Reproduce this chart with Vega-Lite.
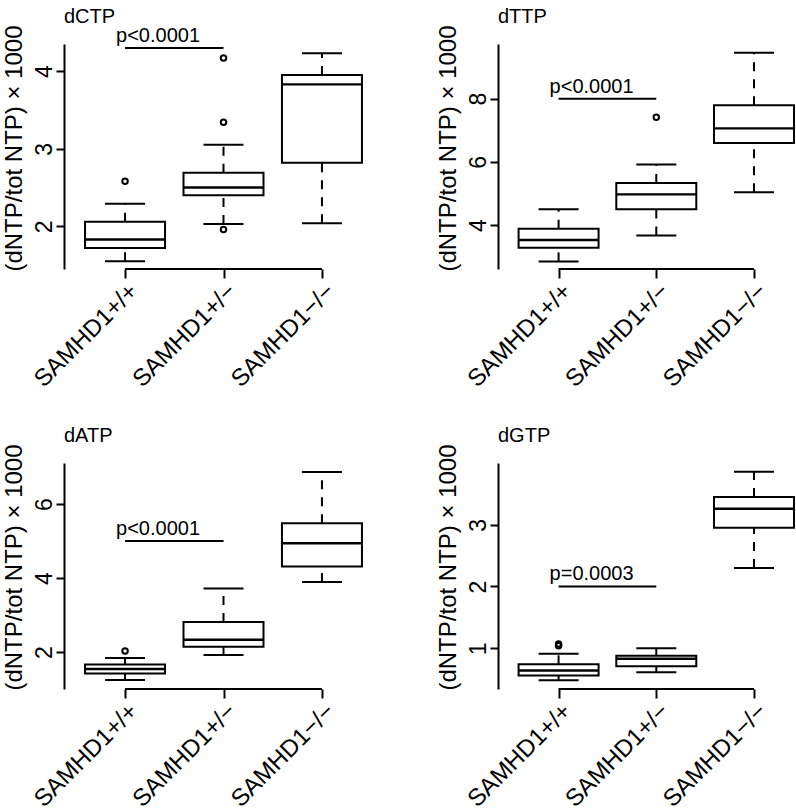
{
  "$schema": "https://vega.github.io/schema/vega-lite/v6.json",
  "padding": {"left": 1, "top": 6, "right": 0, "bottom": 0},
  "background": "white",
  "datasets": {
    "boxes": [
      {"panel": "dCTP", "x": 1, "lower": 1.55, "q1": 1.72, "med": 1.83, "q3": 2.06, "upper": 2.29},
      {"panel": "dCTP", "x": 2, "lower": 2.03, "q1": 2.40, "med": 2.50, "q3": 2.69, "upper": 3.05},
      {"panel": "dCTP", "x": 3, "lower": 2.04, "q1": 2.82, "med": 3.83, "q3": 3.95, "upper": 4.23},
      {"panel": "dTTP", "x": 1, "lower": 2.85, "q1": 3.28, "med": 3.53, "q3": 3.88, "upper": 4.50},
      {"panel": "dTTP", "x": 2, "lower": 3.67, "q1": 4.50, "med": 4.97, "q3": 5.33, "upper": 5.92},
      {"panel": "dTTP", "x": 3, "lower": 5.04, "q1": 6.60, "med": 7.06, "q3": 7.79, "upper": 9.45},
      {"panel": "dATP", "x": 1, "lower": 1.24, "q1": 1.42, "med": 1.54, "q3": 1.66, "upper": 1.84},
      {"panel": "dATP", "x": 2, "lower": 1.92, "q1": 2.14, "med": 2.33, "q3": 2.81, "upper": 3.72},
      {"panel": "dATP", "x": 3, "lower": 3.89, "q1": 4.31, "med": 4.94, "q3": 5.48, "upper": 6.87},
      {"panel": "dGTP", "x": 1, "lower": 0.48, "q1": 0.56, "med": 0.64, "q3": 0.74, "upper": 0.91},
      {"panel": "dGTP", "x": 2, "lower": 0.61, "q1": 0.71, "med": 0.83, "q3": 0.88, "upper": 1.00},
      {"panel": "dGTP", "x": 3, "lower": 2.30, "q1": 2.95, "med": 3.26, "q3": 3.45, "upper": 3.86}
    ],
    "outliers": [
      {"panel": "dCTP", "x": 1, "value": 2.58},
      {"panel": "dCTP", "x": 2, "value": 4.17},
      {"panel": "dCTP", "x": 2, "value": 3.34},
      {"panel": "dCTP", "x": 2, "value": 1.96},
      {"panel": "dTTP", "x": 2, "value": 7.41},
      {"panel": "dATP", "x": 1, "value": 2.03},
      {"panel": "dGTP", "x": 1, "value": 1.04},
      {"panel": "dGTP", "x": 1, "value": 1.07}
    ],
    "pvals": [
      {"panel": "dCTP", "x": 1, "x2": 2, "y": 4.30, "label": "p<0.0001"},
      {"panel": "dTTP", "x": 1, "x2": 2, "y": 8.0, "label": "p<0.0001"},
      {"panel": "dATP", "x": 1, "x2": 2, "y": 5.0, "label": "p<0.0001"},
      {"panel": "dGTP", "x": 1, "x2": 2, "y": 2.0, "label": "p=0.0003"}
    ]
  },
  "columns": 2,
  "bounds": "flush",
  "spacing": {"column": 115, "row": 194},
  "concat": [
    {
      "width": 319, "height": 225,
      "title": {"text": "dCTP"},
      "layer": [
        {"data": {"name": "boxes"}, "transform": [{"filter": "datum.panel == 'dCTP'"}],
         "mark": {"type": "rule", "strokeDash": [9, 8], "strokeWidth": 2, "color": "black"},
         "encoding": {
           "x": {"field": "x", "type": "quantitative", "scale": {"domain": [0.38, 3.62], "nice": false, "zero": false, "padding": 0}, "axis": {"values": [1, 2, 3], "labelExpr": "datum.value == 1 ? 'SAMHD1+/+' : datum.value == 2 ? 'SAMHD1+/\u2212' : 'SAMHD1\u2212/\u2212'"}, "title": null},
           "y": {"field": "q3", "type": "quantitative", "scale": {"domain": [1.45, 4.35], "nice": false, "zero": false, "padding": 0}, "axis": {"values": [2, 3, 4]}, "title": "(dNTP/tot NTP) \u00d7 1000"},
           "y2": {"field": "upper"}
         }},
        {"data": {"name": "boxes"}, "transform": [{"filter": "datum.panel == 'dCTP'"}],
         "mark": {"type": "rule", "strokeDash": [9, 8], "strokeWidth": 2, "color": "black"},
         "encoding": {
           "x": {"field": "x", "type": "quantitative", "scale": {"domain": [0.38, 3.62], "nice": false, "zero": false, "padding": 0}, "axis": {"values": [1, 2, 3], "labelExpr": "datum.value == 1 ? 'SAMHD1+/+' : datum.value == 2 ? 'SAMHD1+/\u2212' : 'SAMHD1\u2212/\u2212'"}, "title": null},
           "y": {"field": "lower", "type": "quantitative", "scale": {"domain": [1.45, 4.35], "nice": false, "zero": false, "padding": 0}, "axis": {"values": [2, 3, 4]}, "title": "(dNTP/tot NTP) \u00d7 1000"},
           "y2": {"field": "q1"}
         }},
        {"data": {"name": "boxes"}, "transform": [{"filter": "datum.panel == 'dCTP'"}],
         "mark": {"type": "bar", "width": 80, "fill": "white", "stroke": "black", "strokeWidth": 2},
         "encoding": {
           "x": {"field": "x", "type": "quantitative", "scale": {"domain": [0.38, 3.62], "nice": false, "zero": false, "padding": 0}, "axis": {"values": [1, 2, 3], "labelExpr": "datum.value == 1 ? 'SAMHD1+/+' : datum.value == 2 ? 'SAMHD1+/\u2212' : 'SAMHD1\u2212/\u2212'"}, "title": null},
           "y": {"field": "q1", "type": "quantitative", "scale": {"domain": [1.45, 4.35], "nice": false, "zero": false, "padding": 0}, "axis": {"values": [2, 3, 4]}, "title": "(dNTP/tot NTP) \u00d7 1000"},
           "y2": {"field": "q3"}
         }},
        {"data": {"name": "boxes"}, "transform": [{"filter": "datum.panel == 'dCTP'"}],
         "mark": {"type": "tick", "orient": "horizontal", "size": 80, "thickness": 2.4, "color": "black", "opacity": 1},
         "encoding": {
           "x": {"field": "x", "type": "quantitative", "scale": {"domain": [0.38, 3.62], "nice": false, "zero": false, "padding": 0}, "axis": {"values": [1, 2, 3], "labelExpr": "datum.value == 1 ? 'SAMHD1+/+' : datum.value == 2 ? 'SAMHD1+/\u2212' : 'SAMHD1\u2212/\u2212'"}, "title": null},
           "y": {"field": "med", "type": "quantitative", "scale": {"domain": [1.45, 4.35], "nice": false, "zero": false, "padding": 0}, "axis": {"values": [2, 3, 4]}, "title": "(dNTP/tot NTP) \u00d7 1000"}
         }},
        {"data": {"name": "boxes"}, "transform": [{"filter": "datum.panel == 'dCTP'"}],
         "mark": {"type": "tick", "orient": "horizontal", "size": 40, "thickness": 2, "color": "black", "opacity": 1},
         "encoding": {
           "x": {"field": "x", "type": "quantitative", "scale": {"domain": [0.38, 3.62], "nice": false, "zero": false, "padding": 0}, "axis": {"values": [1, 2, 3], "labelExpr": "datum.value == 1 ? 'SAMHD1+/+' : datum.value == 2 ? 'SAMHD1+/\u2212' : 'SAMHD1\u2212/\u2212'"}, "title": null},
           "y": {"field": "upper", "type": "quantitative", "scale": {"domain": [1.45, 4.35], "nice": false, "zero": false, "padding": 0}, "axis": {"values": [2, 3, 4]}, "title": "(dNTP/tot NTP) \u00d7 1000"}
         }},
        {"data": {"name": "boxes"}, "transform": [{"filter": "datum.panel == 'dCTP'"}],
         "mark": {"type": "tick", "orient": "horizontal", "size": 40, "thickness": 2, "color": "black", "opacity": 1},
         "encoding": {
           "x": {"field": "x", "type": "quantitative", "scale": {"domain": [0.38, 3.62], "nice": false, "zero": false, "padding": 0}, "axis": {"values": [1, 2, 3], "labelExpr": "datum.value == 1 ? 'SAMHD1+/+' : datum.value == 2 ? 'SAMHD1+/\u2212' : 'SAMHD1\u2212/\u2212'"}, "title": null},
           "y": {"field": "lower", "type": "quantitative", "scale": {"domain": [1.45, 4.35], "nice": false, "zero": false, "padding": 0}, "axis": {"values": [2, 3, 4]}, "title": "(dNTP/tot NTP) \u00d7 1000"}
         }},
        {"data": {"name": "outliers"}, "transform": [{"filter": "datum.panel == 'dCTP'"}],
         "mark": {"type": "point", "size": 30, "stroke": "black", "strokeWidth": 2, "filled": false, "opacity": 1},
         "encoding": {
           "x": {"field": "x", "type": "quantitative", "scale": {"domain": [0.38, 3.62], "nice": false, "zero": false, "padding": 0}, "axis": {"values": [1, 2, 3], "labelExpr": "datum.value == 1 ? 'SAMHD1+/+' : datum.value == 2 ? 'SAMHD1+/\u2212' : 'SAMHD1\u2212/\u2212'"}, "title": null},
           "y": {"field": "value", "type": "quantitative", "scale": {"domain": [1.45, 4.35], "nice": false, "zero": false, "padding": 0}, "axis": {"values": [2, 3, 4]}, "title": "(dNTP/tot NTP) \u00d7 1000"}
         }},
        {"data": {"name": "pvals"}, "transform": [{"filter": "datum.panel == 'dCTP'"}],
         "mark": {"type": "rule", "strokeWidth": 2, "color": "black"},
         "encoding": {
           "x": {"field": "x", "type": "quantitative", "scale": {"domain": [0.38, 3.62], "nice": false, "zero": false, "padding": 0}, "axis": {"values": [1, 2, 3], "labelExpr": "datum.value == 1 ? 'SAMHD1+/+' : datum.value == 2 ? 'SAMHD1+/\u2212' : 'SAMHD1\u2212/\u2212'"}, "title": null},
           "x2": {"field": "x2"},
           "y": {"field": "y", "type": "quantitative", "scale": {"domain": [1.45, 4.35], "nice": false, "zero": false, "padding": 0}, "axis": {"values": [2, 3, 4]}, "title": "(dNTP/tot NTP) \u00d7 1000"}
         }},
        {"data": {"name": "pvals"}, "transform": [{"filter": "datum.panel == 'dCTP'"}],
         "mark": {"type": "text", "align": "left", "baseline": "alphabetic", "dx": -9, "dy": -6, "fontSize": 20, "font": "Liberation Sans", "color": "black"},
         "encoding": {
           "x": {"field": "x", "type": "quantitative", "scale": {"domain": [0.38, 3.62], "nice": false, "zero": false, "padding": 0}, "axis": {"values": [1, 2, 3], "labelExpr": "datum.value == 1 ? 'SAMHD1+/+' : datum.value == 2 ? 'SAMHD1+/\u2212' : 'SAMHD1\u2212/\u2212'"}, "title": null},
           "y": {"field": "y", "type": "quantitative", "scale": {"domain": [1.45, 4.35], "nice": false, "zero": false, "padding": 0}, "axis": {"values": [2, 3, 4]}, "title": "(dNTP/tot NTP) \u00d7 1000"},
           "text": {"field": "label"}
         }},
        {"data": {"name": "pvals"}, "transform": [{"filter": "datum.panel == 'dCTP'"}],
         "mark": {"type": "rule", "strokeWidth": 2, "color": "black"},
         "encoding": {
           "x": {"datum": 1, "type": "quantitative", "scale": {"domain": [0.38, 3.62], "nice": false, "zero": false, "padding": 0}, "axis": {"values": [1, 2, 3], "labelExpr": "datum.value == 1 ? 'SAMHD1+/+' : datum.value == 2 ? 'SAMHD1+/\u2212' : 'SAMHD1\u2212/\u2212'"}, "title": null},
           "x2": {"datum": 3},
           "y": {"datum": 1.45, "type": "quantitative", "scale": {"domain": [1.45, 4.35], "nice": false, "zero": false, "padding": 0}, "axis": {"values": [2, 3, 4]}, "title": "(dNTP/tot NTP) \u00d7 1000"}
         }}
      ]
    },
    {
      "width": 299, "height": 225,
      "title": {"text": "dTTP"},
      "layer": [
        {"data": {"name": "boxes"}, "transform": [{"filter": "datum.panel == 'dTTP'"}],
         "mark": {"type": "rule", "strokeDash": [9, 8], "strokeWidth": 2, "color": "black"},
         "encoding": {
           "x": {"field": "x", "type": "quantitative", "scale": {"domain": [0.38, 3.44], "nice": false, "zero": false, "padding": 0}, "axis": {"values": [1, 2, 3], "labelExpr": "datum.value == 1 ? 'SAMHD1+/+' : datum.value == 2 ? 'SAMHD1+/\u2212' : 'SAMHD1\u2212/\u2212'"}, "title": null},
           "y": {"field": "q3", "type": "quantitative", "scale": {"domain": [2.61, 9.73], "nice": false, "zero": false, "padding": 0}, "axis": {"values": [4, 6, 8]}, "title": "(dNTP/tot NTP) \u00d7 1000"},
           "y2": {"field": "upper"}
         }},
        {"data": {"name": "boxes"}, "transform": [{"filter": "datum.panel == 'dTTP'"}],
         "mark": {"type": "rule", "strokeDash": [9, 8], "strokeWidth": 2, "color": "black"},
         "encoding": {
           "x": {"field": "x", "type": "quantitative", "scale": {"domain": [0.38, 3.44], "nice": false, "zero": false, "padding": 0}, "axis": {"values": [1, 2, 3], "labelExpr": "datum.value == 1 ? 'SAMHD1+/+' : datum.value == 2 ? 'SAMHD1+/\u2212' : 'SAMHD1\u2212/\u2212'"}, "title": null},
           "y": {"field": "lower", "type": "quantitative", "scale": {"domain": [2.61, 9.73], "nice": false, "zero": false, "padding": 0}, "axis": {"values": [4, 6, 8]}, "title": "(dNTP/tot NTP) \u00d7 1000"},
           "y2": {"field": "q1"}
         }},
        {"data": {"name": "boxes"}, "transform": [{"filter": "datum.panel == 'dTTP'"}],
         "mark": {"type": "bar", "width": 80, "fill": "white", "stroke": "black", "strokeWidth": 2},
         "encoding": {
           "x": {"field": "x", "type": "quantitative", "scale": {"domain": [0.38, 3.44], "nice": false, "zero": false, "padding": 0}, "axis": {"values": [1, 2, 3], "labelExpr": "datum.value == 1 ? 'SAMHD1+/+' : datum.value == 2 ? 'SAMHD1+/\u2212' : 'SAMHD1\u2212/\u2212'"}, "title": null},
           "y": {"field": "q1", "type": "quantitative", "scale": {"domain": [2.61, 9.73], "nice": false, "zero": false, "padding": 0}, "axis": {"values": [4, 6, 8]}, "title": "(dNTP/tot NTP) \u00d7 1000"},
           "y2": {"field": "q3"}
         }},
        {"data": {"name": "boxes"}, "transform": [{"filter": "datum.panel == 'dTTP'"}],
         "mark": {"type": "tick", "orient": "horizontal", "size": 80, "thickness": 2.4, "color": "black", "opacity": 1},
         "encoding": {
           "x": {"field": "x", "type": "quantitative", "scale": {"domain": [0.38, 3.44], "nice": false, "zero": false, "padding": 0}, "axis": {"values": [1, 2, 3], "labelExpr": "datum.value == 1 ? 'SAMHD1+/+' : datum.value == 2 ? 'SAMHD1+/\u2212' : 'SAMHD1\u2212/\u2212'"}, "title": null},
           "y": {"field": "med", "type": "quantitative", "scale": {"domain": [2.61, 9.73], "nice": false, "zero": false, "padding": 0}, "axis": {"values": [4, 6, 8]}, "title": "(dNTP/tot NTP) \u00d7 1000"}
         }},
        {"data": {"name": "boxes"}, "transform": [{"filter": "datum.panel == 'dTTP'"}],
         "mark": {"type": "tick", "orient": "horizontal", "size": 40, "thickness": 2, "color": "black", "opacity": 1},
         "encoding": {
           "x": {"field": "x", "type": "quantitative", "scale": {"domain": [0.38, 3.44], "nice": false, "zero": false, "padding": 0}, "axis": {"values": [1, 2, 3], "labelExpr": "datum.value == 1 ? 'SAMHD1+/+' : datum.value == 2 ? 'SAMHD1+/\u2212' : 'SAMHD1\u2212/\u2212'"}, "title": null},
           "y": {"field": "upper", "type": "quantitative", "scale": {"domain": [2.61, 9.73], "nice": false, "zero": false, "padding": 0}, "axis": {"values": [4, 6, 8]}, "title": "(dNTP/tot NTP) \u00d7 1000"}
         }},
        {"data": {"name": "boxes"}, "transform": [{"filter": "datum.panel == 'dTTP'"}],
         "mark": {"type": "tick", "orient": "horizontal", "size": 40, "thickness": 2, "color": "black", "opacity": 1},
         "encoding": {
           "x": {"field": "x", "type": "quantitative", "scale": {"domain": [0.38, 3.44], "nice": false, "zero": false, "padding": 0}, "axis": {"values": [1, 2, 3], "labelExpr": "datum.value == 1 ? 'SAMHD1+/+' : datum.value == 2 ? 'SAMHD1+/\u2212' : 'SAMHD1\u2212/\u2212'"}, "title": null},
           "y": {"field": "lower", "type": "quantitative", "scale": {"domain": [2.61, 9.73], "nice": false, "zero": false, "padding": 0}, "axis": {"values": [4, 6, 8]}, "title": "(dNTP/tot NTP) \u00d7 1000"}
         }},
        {"data": {"name": "outliers"}, "transform": [{"filter": "datum.panel == 'dTTP'"}],
         "mark": {"type": "point", "size": 30, "stroke": "black", "strokeWidth": 2, "filled": false, "opacity": 1},
         "encoding": {
           "x": {"field": "x", "type": "quantitative", "scale": {"domain": [0.38, 3.44], "nice": false, "zero": false, "padding": 0}, "axis": {"values": [1, 2, 3], "labelExpr": "datum.value == 1 ? 'SAMHD1+/+' : datum.value == 2 ? 'SAMHD1+/\u2212' : 'SAMHD1\u2212/\u2212'"}, "title": null},
           "y": {"field": "value", "type": "quantitative", "scale": {"domain": [2.61, 9.73], "nice": false, "zero": false, "padding": 0}, "axis": {"values": [4, 6, 8]}, "title": "(dNTP/tot NTP) \u00d7 1000"}
         }},
        {"data": {"name": "pvals"}, "transform": [{"filter": "datum.panel == 'dTTP'"}],
         "mark": {"type": "rule", "strokeWidth": 2, "color": "black"},
         "encoding": {
           "x": {"field": "x", "type": "quantitative", "scale": {"domain": [0.38, 3.44], "nice": false, "zero": false, "padding": 0}, "axis": {"values": [1, 2, 3], "labelExpr": "datum.value == 1 ? 'SAMHD1+/+' : datum.value == 2 ? 'SAMHD1+/\u2212' : 'SAMHD1\u2212/\u2212'"}, "title": null},
           "x2": {"field": "x2"},
           "y": {"field": "y", "type": "quantitative", "scale": {"domain": [2.61, 9.73], "nice": false, "zero": false, "padding": 0}, "axis": {"values": [4, 6, 8]}, "title": "(dNTP/tot NTP) \u00d7 1000"}
         }},
        {"data": {"name": "pvals"}, "transform": [{"filter": "datum.panel == 'dTTP'"}],
         "mark": {"type": "text", "align": "left", "baseline": "alphabetic", "dx": -9, "dy": -6, "fontSize": 20, "font": "Liberation Sans", "color": "black"},
         "encoding": {
           "x": {"field": "x", "type": "quantitative", "scale": {"domain": [0.38, 3.44], "nice": false, "zero": false, "padding": 0}, "axis": {"values": [1, 2, 3], "labelExpr": "datum.value == 1 ? 'SAMHD1+/+' : datum.value == 2 ? 'SAMHD1+/\u2212' : 'SAMHD1\u2212/\u2212'"}, "title": null},
           "y": {"field": "y", "type": "quantitative", "scale": {"domain": [2.61, 9.73], "nice": false, "zero": false, "padding": 0}, "axis": {"values": [4, 6, 8]}, "title": "(dNTP/tot NTP) \u00d7 1000"},
           "text": {"field": "label"}
         }},
        {"data": {"name": "pvals"}, "transform": [{"filter": "datum.panel == 'dTTP'"}],
         "mark": {"type": "rule", "strokeWidth": 2, "color": "black"},
         "encoding": {
           "x": {"datum": 1, "type": "quantitative", "scale": {"domain": [0.38, 3.44], "nice": false, "zero": false, "padding": 0}, "axis": {"values": [1, 2, 3], "labelExpr": "datum.value == 1 ? 'SAMHD1+/+' : datum.value == 2 ? 'SAMHD1+/\u2212' : 'SAMHD1\u2212/\u2212'"}, "title": null},
           "x2": {"datum": 3},
           "y": {"datum": 2.61, "type": "quantitative", "scale": {"domain": [2.61, 9.73], "nice": false, "zero": false, "padding": 0}, "axis": {"values": [4, 6, 8]}, "title": "(dNTP/tot NTP) \u00d7 1000"}
         }}
      ]
    },
    {
      "width": 319, "height": 226,
      "title": {"text": "dATP"},
      "layer": [
        {"data": {"name": "boxes"}, "transform": [{"filter": "datum.panel == 'dATP'"}],
         "mark": {"type": "rule", "strokeDash": [9, 8], "strokeWidth": 2, "color": "black"},
         "encoding": {
           "x": {"field": "x", "type": "quantitative", "scale": {"domain": [0.38, 3.62], "nice": false, "zero": false, "padding": 0}, "axis": {"values": [1, 2, 3], "labelExpr": "datum.value == 1 ? 'SAMHD1+/+' : datum.value == 2 ? 'SAMHD1+/\u2212' : 'SAMHD1\u2212/\u2212'"}, "title": null},
           "y": {"field": "q3", "type": "quantitative", "scale": {"domain": [1.0, 7.11], "nice": false, "zero": false, "padding": 0}, "axis": {"values": [2, 4, 6]}, "title": "(dNTP/tot NTP) \u00d7 1000"},
           "y2": {"field": "upper"}
         }},
        {"data": {"name": "boxes"}, "transform": [{"filter": "datum.panel == 'dATP'"}],
         "mark": {"type": "rule", "strokeDash": [9, 8], "strokeWidth": 2, "color": "black"},
         "encoding": {
           "x": {"field": "x", "type": "quantitative", "scale": {"domain": [0.38, 3.62], "nice": false, "zero": false, "padding": 0}, "axis": {"values": [1, 2, 3], "labelExpr": "datum.value == 1 ? 'SAMHD1+/+' : datum.value == 2 ? 'SAMHD1+/\u2212' : 'SAMHD1\u2212/\u2212'"}, "title": null},
           "y": {"field": "lower", "type": "quantitative", "scale": {"domain": [1.0, 7.11], "nice": false, "zero": false, "padding": 0}, "axis": {"values": [2, 4, 6]}, "title": "(dNTP/tot NTP) \u00d7 1000"},
           "y2": {"field": "q1"}
         }},
        {"data": {"name": "boxes"}, "transform": [{"filter": "datum.panel == 'dATP'"}],
         "mark": {"type": "bar", "width": 80, "fill": "white", "stroke": "black", "strokeWidth": 2},
         "encoding": {
           "x": {"field": "x", "type": "quantitative", "scale": {"domain": [0.38, 3.62], "nice": false, "zero": false, "padding": 0}, "axis": {"values": [1, 2, 3], "labelExpr": "datum.value == 1 ? 'SAMHD1+/+' : datum.value == 2 ? 'SAMHD1+/\u2212' : 'SAMHD1\u2212/\u2212'"}, "title": null},
           "y": {"field": "q1", "type": "quantitative", "scale": {"domain": [1.0, 7.11], "nice": false, "zero": false, "padding": 0}, "axis": {"values": [2, 4, 6]}, "title": "(dNTP/tot NTP) \u00d7 1000"},
           "y2": {"field": "q3"}
         }},
        {"data": {"name": "boxes"}, "transform": [{"filter": "datum.panel == 'dATP'"}],
         "mark": {"type": "tick", "orient": "horizontal", "size": 80, "thickness": 2.4, "color": "black", "opacity": 1},
         "encoding": {
           "x": {"field": "x", "type": "quantitative", "scale": {"domain": [0.38, 3.62], "nice": false, "zero": false, "padding": 0}, "axis": {"values": [1, 2, 3], "labelExpr": "datum.value == 1 ? 'SAMHD1+/+' : datum.value == 2 ? 'SAMHD1+/\u2212' : 'SAMHD1\u2212/\u2212'"}, "title": null},
           "y": {"field": "med", "type": "quantitative", "scale": {"domain": [1.0, 7.11], "nice": false, "zero": false, "padding": 0}, "axis": {"values": [2, 4, 6]}, "title": "(dNTP/tot NTP) \u00d7 1000"}
         }},
        {"data": {"name": "boxes"}, "transform": [{"filter": "datum.panel == 'dATP'"}],
         "mark": {"type": "tick", "orient": "horizontal", "size": 40, "thickness": 2, "color": "black", "opacity": 1},
         "encoding": {
           "x": {"field": "x", "type": "quantitative", "scale": {"domain": [0.38, 3.62], "nice": false, "zero": false, "padding": 0}, "axis": {"values": [1, 2, 3], "labelExpr": "datum.value == 1 ? 'SAMHD1+/+' : datum.value == 2 ? 'SAMHD1+/\u2212' : 'SAMHD1\u2212/\u2212'"}, "title": null},
           "y": {"field": "upper", "type": "quantitative", "scale": {"domain": [1.0, 7.11], "nice": false, "zero": false, "padding": 0}, "axis": {"values": [2, 4, 6]}, "title": "(dNTP/tot NTP) \u00d7 1000"}
         }},
        {"data": {"name": "boxes"}, "transform": [{"filter": "datum.panel == 'dATP'"}],
         "mark": {"type": "tick", "orient": "horizontal", "size": 40, "thickness": 2, "color": "black", "opacity": 1},
         "encoding": {
           "x": {"field": "x", "type": "quantitative", "scale": {"domain": [0.38, 3.62], "nice": false, "zero": false, "padding": 0}, "axis": {"values": [1, 2, 3], "labelExpr": "datum.value == 1 ? 'SAMHD1+/+' : datum.value == 2 ? 'SAMHD1+/\u2212' : 'SAMHD1\u2212/\u2212'"}, "title": null},
           "y": {"field": "lower", "type": "quantitative", "scale": {"domain": [1.0, 7.11], "nice": false, "zero": false, "padding": 0}, "axis": {"values": [2, 4, 6]}, "title": "(dNTP/tot NTP) \u00d7 1000"}
         }},
        {"data": {"name": "outliers"}, "transform": [{"filter": "datum.panel == 'dATP'"}],
         "mark": {"type": "point", "size": 30, "stroke": "black", "strokeWidth": 2, "filled": false, "opacity": 1},
         "encoding": {
           "x": {"field": "x", "type": "quantitative", "scale": {"domain": [0.38, 3.62], "nice": false, "zero": false, "padding": 0}, "axis": {"values": [1, 2, 3], "labelExpr": "datum.value == 1 ? 'SAMHD1+/+' : datum.value == 2 ? 'SAMHD1+/\u2212' : 'SAMHD1\u2212/\u2212'"}, "title": null},
           "y": {"field": "value", "type": "quantitative", "scale": {"domain": [1.0, 7.11], "nice": false, "zero": false, "padding": 0}, "axis": {"values": [2, 4, 6]}, "title": "(dNTP/tot NTP) \u00d7 1000"}
         }},
        {"data": {"name": "pvals"}, "transform": [{"filter": "datum.panel == 'dATP'"}],
         "mark": {"type": "rule", "strokeWidth": 2, "color": "black"},
         "encoding": {
           "x": {"field": "x", "type": "quantitative", "scale": {"domain": [0.38, 3.62], "nice": false, "zero": false, "padding": 0}, "axis": {"values": [1, 2, 3], "labelExpr": "datum.value == 1 ? 'SAMHD1+/+' : datum.value == 2 ? 'SAMHD1+/\u2212' : 'SAMHD1\u2212/\u2212'"}, "title": null},
           "x2": {"field": "x2"},
           "y": {"field": "y", "type": "quantitative", "scale": {"domain": [1.0, 7.11], "nice": false, "zero": false, "padding": 0}, "axis": {"values": [2, 4, 6]}, "title": "(dNTP/tot NTP) \u00d7 1000"}
         }},
        {"data": {"name": "pvals"}, "transform": [{"filter": "datum.panel == 'dATP'"}],
         "mark": {"type": "text", "align": "left", "baseline": "alphabetic", "dx": -9, "dy": -6, "fontSize": 20, "font": "Liberation Sans", "color": "black"},
         "encoding": {
           "x": {"field": "x", "type": "quantitative", "scale": {"domain": [0.38, 3.62], "nice": false, "zero": false, "padding": 0}, "axis": {"values": [1, 2, 3], "labelExpr": "datum.value == 1 ? 'SAMHD1+/+' : datum.value == 2 ? 'SAMHD1+/\u2212' : 'SAMHD1\u2212/\u2212'"}, "title": null},
           "y": {"field": "y", "type": "quantitative", "scale": {"domain": [1.0, 7.11], "nice": false, "zero": false, "padding": 0}, "axis": {"values": [2, 4, 6]}, "title": "(dNTP/tot NTP) \u00d7 1000"},
           "text": {"field": "label"}
         }},
        {"data": {"name": "pvals"}, "transform": [{"filter": "datum.panel == 'dATP'"}],
         "mark": {"type": "rule", "strokeWidth": 2, "color": "black"},
         "encoding": {
           "x": {"datum": 1, "type": "quantitative", "scale": {"domain": [0.38, 3.62], "nice": false, "zero": false, "padding": 0}, "axis": {"values": [1, 2, 3], "labelExpr": "datum.value == 1 ? 'SAMHD1+/+' : datum.value == 2 ? 'SAMHD1+/\u2212' : 'SAMHD1\u2212/\u2212'"}, "title": null},
           "x2": {"datum": 3},
           "y": {"datum": 1.0, "type": "quantitative", "scale": {"domain": [1.0, 7.11], "nice": false, "zero": false, "padding": 0}, "axis": {"values": [2, 4, 6]}, "title": "(dNTP/tot NTP) \u00d7 1000"}
         }}
      ]
    },
    {
      "width": 299, "height": 226,
      "title": {"text": "dGTP"},
      "layer": [
        {"data": {"name": "boxes"}, "transform": [{"filter": "datum.panel == 'dGTP'"}],
         "mark": {"type": "rule", "strokeDash": [9, 8], "strokeWidth": 2, "color": "black"},
         "encoding": {
           "x": {"field": "x", "type": "quantitative", "scale": {"domain": [0.38, 3.44], "nice": false, "zero": false, "padding": 0}, "axis": {"values": [1, 2, 3], "labelExpr": "datum.value == 1 ? 'SAMHD1+/+' : datum.value == 2 ? 'SAMHD1+/\u2212' : 'SAMHD1\u2212/\u2212'"}, "title": null},
           "y": {"field": "q3", "type": "quantitative", "scale": {"domain": [0.34, 4.0], "nice": false, "zero": false, "padding": 0}, "axis": {"values": [1, 2, 3]}, "title": "(dNTP/tot NTP) \u00d7 1000"},
           "y2": {"field": "upper"}
         }},
        {"data": {"name": "boxes"}, "transform": [{"filter": "datum.panel == 'dGTP'"}],
         "mark": {"type": "rule", "strokeDash": [9, 8], "strokeWidth": 2, "color": "black"},
         "encoding": {
           "x": {"field": "x", "type": "quantitative", "scale": {"domain": [0.38, 3.44], "nice": false, "zero": false, "padding": 0}, "axis": {"values": [1, 2, 3], "labelExpr": "datum.value == 1 ? 'SAMHD1+/+' : datum.value == 2 ? 'SAMHD1+/\u2212' : 'SAMHD1\u2212/\u2212'"}, "title": null},
           "y": {"field": "lower", "type": "quantitative", "scale": {"domain": [0.34, 4.0], "nice": false, "zero": false, "padding": 0}, "axis": {"values": [1, 2, 3]}, "title": "(dNTP/tot NTP) \u00d7 1000"},
           "y2": {"field": "q1"}
         }},
        {"data": {"name": "boxes"}, "transform": [{"filter": "datum.panel == 'dGTP'"}],
         "mark": {"type": "bar", "width": 80, "fill": "white", "stroke": "black", "strokeWidth": 2},
         "encoding": {
           "x": {"field": "x", "type": "quantitative", "scale": {"domain": [0.38, 3.44], "nice": false, "zero": false, "padding": 0}, "axis": {"values": [1, 2, 3], "labelExpr": "datum.value == 1 ? 'SAMHD1+/+' : datum.value == 2 ? 'SAMHD1+/\u2212' : 'SAMHD1\u2212/\u2212'"}, "title": null},
           "y": {"field": "q1", "type": "quantitative", "scale": {"domain": [0.34, 4.0], "nice": false, "zero": false, "padding": 0}, "axis": {"values": [1, 2, 3]}, "title": "(dNTP/tot NTP) \u00d7 1000"},
           "y2": {"field": "q3"}
         }},
        {"data": {"name": "boxes"}, "transform": [{"filter": "datum.panel == 'dGTP'"}],
         "mark": {"type": "tick", "orient": "horizontal", "size": 80, "thickness": 2.4, "color": "black", "opacity": 1},
         "encoding": {
           "x": {"field": "x", "type": "quantitative", "scale": {"domain": [0.38, 3.44], "nice": false, "zero": false, "padding": 0}, "axis": {"values": [1, 2, 3], "labelExpr": "datum.value == 1 ? 'SAMHD1+/+' : datum.value == 2 ? 'SAMHD1+/\u2212' : 'SAMHD1\u2212/\u2212'"}, "title": null},
           "y": {"field": "med", "type": "quantitative", "scale": {"domain": [0.34, 4.0], "nice": false, "zero": false, "padding": 0}, "axis": {"values": [1, 2, 3]}, "title": "(dNTP/tot NTP) \u00d7 1000"}
         }},
        {"data": {"name": "boxes"}, "transform": [{"filter": "datum.panel == 'dGTP'"}],
         "mark": {"type": "tick", "orient": "horizontal", "size": 40, "thickness": 2, "color": "black", "opacity": 1},
         "encoding": {
           "x": {"field": "x", "type": "quantitative", "scale": {"domain": [0.38, 3.44], "nice": false, "zero": false, "padding": 0}, "axis": {"values": [1, 2, 3], "labelExpr": "datum.value == 1 ? 'SAMHD1+/+' : datum.value == 2 ? 'SAMHD1+/\u2212' : 'SAMHD1\u2212/\u2212'"}, "title": null},
           "y": {"field": "upper", "type": "quantitative", "scale": {"domain": [0.34, 4.0], "nice": false, "zero": false, "padding": 0}, "axis": {"values": [1, 2, 3]}, "title": "(dNTP/tot NTP) \u00d7 1000"}
         }},
        {"data": {"name": "boxes"}, "transform": [{"filter": "datum.panel == 'dGTP'"}],
         "mark": {"type": "tick", "orient": "horizontal", "size": 40, "thickness": 2, "color": "black", "opacity": 1},
         "encoding": {
           "x": {"field": "x", "type": "quantitative", "scale": {"domain": [0.38, 3.44], "nice": false, "zero": false, "padding": 0}, "axis": {"values": [1, 2, 3], "labelExpr": "datum.value == 1 ? 'SAMHD1+/+' : datum.value == 2 ? 'SAMHD1+/\u2212' : 'SAMHD1\u2212/\u2212'"}, "title": null},
           "y": {"field": "lower", "type": "quantitative", "scale": {"domain": [0.34, 4.0], "nice": false, "zero": false, "padding": 0}, "axis": {"values": [1, 2, 3]}, "title": "(dNTP/tot NTP) \u00d7 1000"}
         }},
        {"data": {"name": "outliers"}, "transform": [{"filter": "datum.panel == 'dGTP'"}],
         "mark": {"type": "point", "size": 30, "stroke": "black", "strokeWidth": 2, "filled": false, "opacity": 1},
         "encoding": {
           "x": {"field": "x", "type": "quantitative", "scale": {"domain": [0.38, 3.44], "nice": false, "zero": false, "padding": 0}, "axis": {"values": [1, 2, 3], "labelExpr": "datum.value == 1 ? 'SAMHD1+/+' : datum.value == 2 ? 'SAMHD1+/\u2212' : 'SAMHD1\u2212/\u2212'"}, "title": null},
           "y": {"field": "value", "type": "quantitative", "scale": {"domain": [0.34, 4.0], "nice": false, "zero": false, "padding": 0}, "axis": {"values": [1, 2, 3]}, "title": "(dNTP/tot NTP) \u00d7 1000"}
         }},
        {"data": {"name": "pvals"}, "transform": [{"filter": "datum.panel == 'dGTP'"}],
         "mark": {"type": "rule", "strokeWidth": 2, "color": "black"},
         "encoding": {
           "x": {"field": "x", "type": "quantitative", "scale": {"domain": [0.38, 3.44], "nice": false, "zero": false, "padding": 0}, "axis": {"values": [1, 2, 3], "labelExpr": "datum.value == 1 ? 'SAMHD1+/+' : datum.value == 2 ? 'SAMHD1+/\u2212' : 'SAMHD1\u2212/\u2212'"}, "title": null},
           "x2": {"field": "x2"},
           "y": {"field": "y", "type": "quantitative", "scale": {"domain": [0.34, 4.0], "nice": false, "zero": false, "padding": 0}, "axis": {"values": [1, 2, 3]}, "title": "(dNTP/tot NTP) \u00d7 1000"}
         }},
        {"data": {"name": "pvals"}, "transform": [{"filter": "datum.panel == 'dGTP'"}],
         "mark": {"type": "text", "align": "left", "baseline": "alphabetic", "dx": -9, "dy": -6, "fontSize": 20, "font": "Liberation Sans", "color": "black"},
         "encoding": {
           "x": {"field": "x", "type": "quantitative", "scale": {"domain": [0.38, 3.44], "nice": false, "zero": false, "padding": 0}, "axis": {"values": [1, 2, 3], "labelExpr": "datum.value == 1 ? 'SAMHD1+/+' : datum.value == 2 ? 'SAMHD1+/\u2212' : 'SAMHD1\u2212/\u2212'"}, "title": null},
           "y": {"field": "y", "type": "quantitative", "scale": {"domain": [0.34, 4.0], "nice": false, "zero": false, "padding": 0}, "axis": {"values": [1, 2, 3]}, "title": "(dNTP/tot NTP) \u00d7 1000"},
           "text": {"field": "label"}
         }},
        {"data": {"name": "pvals"}, "transform": [{"filter": "datum.panel == 'dGTP'"}],
         "mark": {"type": "rule", "strokeWidth": 2, "color": "black"},
         "encoding": {
           "x": {"datum": 1, "type": "quantitative", "scale": {"domain": [0.38, 3.44], "nice": false, "zero": false, "padding": 0}, "axis": {"values": [1, 2, 3], "labelExpr": "datum.value == 1 ? 'SAMHD1+/+' : datum.value == 2 ? 'SAMHD1+/\u2212' : 'SAMHD1\u2212/\u2212'"}, "title": null},
           "x2": {"datum": 3},
           "y": {"datum": 0.34, "type": "quantitative", "scale": {"domain": [0.34, 4.0], "nice": false, "zero": false, "padding": 0}, "axis": {"values": [1, 2, 3]}, "title": "(dNTP/tot NTP) \u00d7 1000"}
         }}
      ]
    }
  ],
  "config": {
    "view": {"stroke": null},
    "font": "Liberation Sans",
    "title": {"anchor": "start", "frame": "group", "fontSize": 20, "fontWeight": "normal", "font": "Liberation Sans", "color": "black", "baseline": "alphabetic", "offset": -2},
    "axis": {"grid": false, "domainColor": "black", "domainWidth": 2, "tickColor": "black", "tickWidth": 2, "labelColor": "black", "titleColor": "black", "labelFont": "Liberation Sans", "titleFont": "Liberation Sans", "titleFontWeight": "normal"},
    "axisX": {"domain": false, "tickSize": 9, "labelFontSize": 24, "labelAngle": -45, "labelAlign": "right", "labelBaseline": "top", "labelPadding": 1, "labelFlush": false, "labelOverlap": false},
    "axisY": {"tickSize": 8, "labelFontSize": 23, "labelAngle": -90, "labelAlign": "center", "labelBaseline": "alphabetic", "labelPadding": 5, "titleFontSize": 24, "titleAngle": -90, "titleBaseline": "alphabetic", "titleAlign": "center", "titleX": -43, "titleY": 104}
  }
}
